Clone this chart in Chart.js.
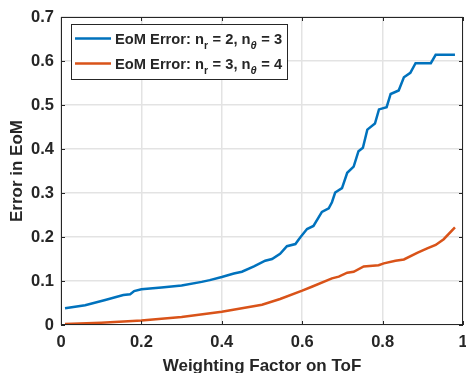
<!DOCTYPE html>
<html>
<head>
<meta charset="utf-8">
<script src="https://cdn.jsdelivr.net/npm/chart.js@4/dist/chart.umd.min.js"></script>
<style>
  html, body { margin: 0; padding: 0; background: #fff; }
  #wrap { width: 466px; height: 373px; overflow: hidden; position: relative; }
  canvas { display: block; }
</style>
</head>
<body>
<div id="wrap"><canvas id="eomChart" width="480" height="390"></canvas></div>
<script>
(function() {
    'use strict';

    // --- data ---
    const blueX = [0.01, 0.06, 0.11, 0.155, 0.172, 0.182, 0.2, 0.25, 0.3, 0.35, 0.37, 0.4, 0.43, 0.45, 0.48,
                   0.508, 0.525, 0.545, 0.562, 0.583, 0.595, 0.612, 0.628, 0.649, 0.666, 0.674, 0.682, 0.699,
                   0.712, 0.728, 0.74, 0.751, 0.762, 0.781, 0.791, 0.81, 0.82, 0.84, 0.853, 0.869, 0.882,
                   0.92, 0.932, 0.98];
    const blueY = [0.038, 0.045, 0.057, 0.068, 0.070, 0.077, 0.081, 0.085, 0.090, 0.098, 0.102, 0.109, 0.117, 0.121, 0.133,
                   0.146, 0.150, 0.162, 0.179, 0.184, 0.199, 0.218, 0.225, 0.257, 0.265, 0.279, 0.301, 0.311,
                   0.346, 0.360, 0.395, 0.403, 0.444, 0.458, 0.490, 0.495, 0.525, 0.533, 0.563, 0.573, 0.595,
                   0.595, 0.614, 0.614];

    const orangeX = [0.01, 0.1, 0.2, 0.3, 0.4, 0.45, 0.5, 0.545, 0.6, 0.624, 0.674, 0.691, 0.712, 0.728, 0.753,
                     0.79, 0.803, 0.832, 0.853, 0.886, 0.911, 0.932, 0.952, 0.98];
    const orangeY = [0.002, 0.005, 0.010, 0.018, 0.030, 0.038, 0.046, 0.059, 0.078, 0.087, 0.106, 0.110, 0.119, 0.121, 0.133,
                     0.136, 0.140, 0.146, 0.149, 0.164, 0.174, 0.182, 0.195, 0.222];

    // legend text pieces: [main, subscript, main, subscript, main]
    const legendBlue   = ['EoM Error: n', 'r', ' = 2, n', 'θ', ' = 3'];
    const legendOrange = ['EoM Error: n', 'r', ' = 3, n', 'θ', ' = 4'];

    const xTicks = [0, 0.2, 0.4, 0.6, 0.8, 1];
    const xTickLabels = ['0', '0.2', '0.4', '0.6', '0.8', '1'];
    const yTicks = [0, 0.1, 0.2, 0.3, 0.4, 0.5, 0.6, 0.7];
    const yTickLabels = ['0', '0.1', '0.2', '0.3', '0.4', '0.5', '0.6', '0.7'];

    const xTitle = 'Weighting Factor on ToF';
    const yTitle = 'Error in EoM';

    const BLUE = '#0072BD';
    const ORANGE = '#D95319';
    const INK = '#262626';
    const FONT = '"Liberation Sans", Arial, sans-serif';

    const toPoints = (xs, ys) => xs.map((x, i) => ({ x: x, y: ys[i] }));

    /* ========================================
       box, inward ticks and legend (MATLAB look)
       ======================================== */
    const matlabAxes = {
        id: 'matlabAxes',
        afterDatasetsDraw(chart) {
            const { ctx, chartArea: a, scales } = chart;
            ctx.save();
            ctx.strokeStyle = INK;
            ctx.lineWidth = 1;
            ctx.strokeRect(a.left + 0.5, a.top + 0.5, a.right - a.left - 1, a.bottom - a.top - 1);

            const tl = 4;
            ctx.beginPath();
            xTicks.forEach(v => {
                const px = Math.round(scales.x.getPixelForValue(v)) + 0.5;
                ctx.moveTo(px, a.bottom); ctx.lineTo(px, a.bottom - tl);
                ctx.moveTo(px, a.top); ctx.lineTo(px, a.top + tl);
            });
            yTicks.forEach(v => {
                const py = Math.round(scales.y.getPixelForValue(v)) + 0.5;
                ctx.moveTo(a.left, py); ctx.lineTo(a.left + tl, py);
                ctx.moveTo(a.right, py); ctx.lineTo(a.right - tl, py);
            });
            ctx.stroke();

            // legend
            const lx = 71, ly = 24, lw = 216, lh = 55;
            ctx.fillStyle = '#fff';
            ctx.fillRect(lx, ly, lw, lh);
            ctx.strokeStyle = INK;
            ctx.strokeRect(lx + 0.5, ly + 0.5, lw, lh);

            const mainFont = 'bold 14.7px ' + FONT;
            const subFont = 'bold 10.5px ' + FONT;
            const thetaFont = 'italic bold 11px ' + FONT;

            const rows = [
                { color: BLUE, parts: legendBlue, y: 38.5 },
                { color: ORANGE, parts: legendOrange, y: 63.5 }
            ];
            rows.forEach(row => {
                ctx.strokeStyle = row.color;
                ctx.lineWidth = 2.5;
                ctx.beginPath();
                ctx.moveTo(75, row.y);
                ctx.lineTo(111, row.y);
                ctx.stroke();

                let x = 115;
                const base = row.y + 5;
                ctx.fillStyle = INK;
                ctx.textBaseline = 'alphabetic';
                ctx.textAlign = 'left';
                row.parts.forEach((t, i) => {
                    const isSub = i % 2 === 1;
                    ctx.font = isSub ? (t === 'θ' ? thetaFont : subFont) : mainFont;
                    ctx.fillText(t, x, isSub ? base + 5 : base);
                    x += ctx.measureText(t).width + (isSub ? 0.5 : 0);
                });
            });
            ctx.restore();
        }
    };

    const el = document.getElementById('eomChart');
    if (!el) {
        console.error('canvas not found');
        return;
    }

    new Chart(el.getContext('2d'), {
        type: 'line',
        data: {
            datasets: [{
                label: legendBlue.join(''),
                data: toPoints(blueX, blueY),
                borderColor: BLUE,
                borderWidth: 2.5,
                pointRadius: 0,
                tension: 0,
                fill: false
            }, {
                label: legendOrange.join(''),
                data: toPoints(orangeX, orangeY),
                borderColor: ORANGE,
                borderWidth: 2.5,
                pointRadius: 0,
                tension: 0,
                fill: false
            }]
        },
        options: {
            responsive: false,
            animation: false,
            devicePixelRatio: 1,
            layout: { padding: { left: 0, top: 17, right: 17, bottom: 0 } },
            plugins: {
                legend: { display: false },
                tooltip: { enabled: false }
            },
            scales: {
                x: {
                    type: 'linear',
                    min: 0,
                    max: 1,
                    afterBuildTicks: s => { s.ticks = xTicks.map(v => ({ value: v })); },
                    afterFit: s => { s.height = 65; },
                    ticks: {
                        color: INK,
                        padding: 8,
                        maxRotation: 0,
                        autoSkip: false,
                        callback: (v, i) => xTickLabels[i],
                        font: { family: FONT, size: 16.5, weight: 'bold' }
                    },
                    grid: { color: '#e3e3e3', lineWidth: 1.5, drawTicks: false },
                    border: { display: false },
                    title: {
                        display: true,
                        text: xTitle,
                        color: INK,
                        font: { family: FONT, size: 17, weight: 'bold' },
                        padding: { top: 0, bottom: 13.8 }
                    }
                },
                y: {
                    type: 'linear',
                    min: 0,
                    max: 0.7,
                    afterBuildTicks: s => { s.ticks = yTicks.map(v => ({ value: v })); },
                    afterFit: s => { s.width = 61; },
                    ticks: {
                        color: INK,
                        padding: 7,
                        autoSkip: false,
                        callback: (v, i) => yTickLabels[i],
                        font: { family: FONT, size: 16.5, weight: 'bold' }
                    },
                    grid: { color: '#e3e3e3', lineWidth: 1.5, drawTicks: false },
                    border: { display: false },
                    title: {
                        display: true,
                        text: yTitle,
                        color: INK,
                        font: { family: FONT, size: 17, weight: 'bold' },
                        padding: { top: 7.3, bottom: 0 }
                    }
                }
            }
        },
        plugins: [matlabAxes]
    });
})();
</script>
</body>
</html>
